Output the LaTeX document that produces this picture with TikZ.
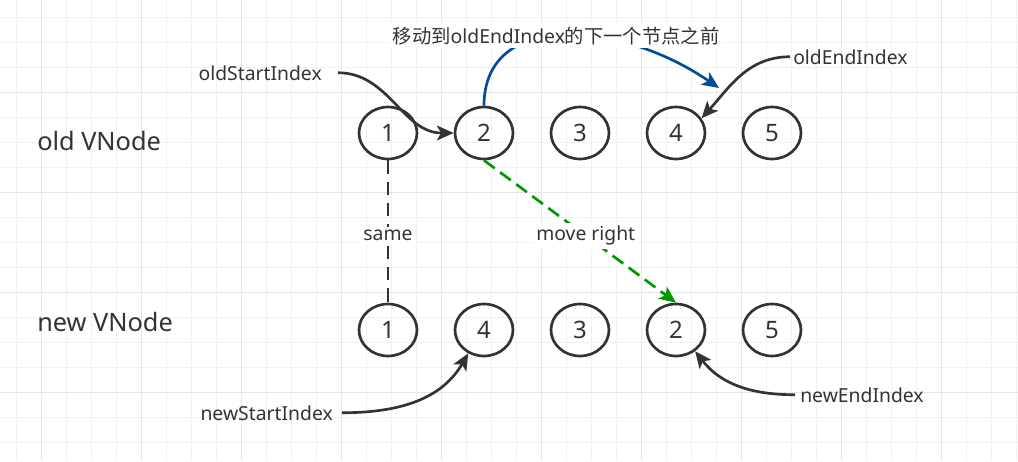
\documentclass[tikz,border=0pt]{standalone}
\usepackage{fontspec}
\setmainfont{Noto Sans}
\newfontfamily\cjk{Noto Sans CJK SC}
\usetikzlibrary{arrows.meta,shapes.geometric}
\definecolor{ink}{HTML}{333333}
\definecolor{moveblue}{HTML}{004C99}
\definecolor{movegreen}{HTML}{009900}
\definecolor{gridminor}{HTML}{F1F1F1}
\definecolor{gridmajor}{HTML}{E6E6E6}

\begin{document}
\begin{tikzpicture}[x=0.75pt,y=0.75pt,
  vnode/.style={ellipse,draw=ink,line width=2pt,minimum width=43.5pt,minimum height=39pt,
    inner sep=0pt,text=ink,font=\fontsize{18}{20}\selectfont},
  rowlabel/.style={anchor=base west,inner sep=0pt,text=ink,font=\fontsize{19}{22}\selectfont},
  idxlabel/.style={inner sep=0pt,text=ink,font=\fontsize{14.5}{16}\selectfont},
  edgelabel/.style={fill=white,inner sep=2.5pt,text=ink,font=\fontsize{14.5}{16}\selectfont},
  pointer/.style={line width=2pt,-{Stealth[length=12.5pt,width=11pt,inset=3pt]}}]
  % background grid
  \useasboundingbox (0,0) rectangle (1018,-461);
  \fill[white] (0,0) rectangle (1018,-461);
  \foreach \x in {16,41,...,1016}
    \draw[gridminor,line width=0.75pt] (\x,0) -- (\x,-461);
  \foreach \y in {17,42,...,442}
    \draw[gridminor,line width=0.75pt] (0,-\y) -- (1018,-\y);
  \foreach \x in {41,141,...,941}
    \draw[gridmajor,line width=0.75pt] (\x,0) -- (\x,-461);
  \foreach \y in {92,192,292,392}
    \draw[gridmajor,line width=0.75pt] (0,-\y) -- (1018,-\y);

  % rows
  \node[rowlabel] (oldrow) at (37,-150) {old VNode};
  \node[rowlabel] (newrow) at (37,-331) {new VNode};
  \foreach \i/\v in {1/1,2/2,3/3,4/4,5/5}
    \node[vnode] (o\i) at ({292+96*\i},-133) {\v};
  \foreach \i/\v in {1/1,2/4,3/3,4/2,5/5}
    \node[vnode] (n\i) at ({292+96*\i},-330) {\v};

  % index pointers
  \node[idxlabel,anchor=base east] (oldstart) at (322,-80) {oldStartIndex};
  \node[idxlabel,anchor=base west] (oldend) at (793,-64) {oldEndIndex};
  \node[idxlabel,anchor=base east] (newstart) at (333,-420) {newStartIndex};
  \node[idxlabel,anchor=base west] (newend) at (800,-402) {newEndIndex};
  \draw[pointer,ink] ([xshift=12pt]oldstart.east) to[out=0,in=180] (o2.west);
  \draw[pointer,ink] ([xshift=-2.25pt]oldend.west) to[out=180,in=48] (o4.30);
  \draw[pointer,ink] ([xshift=6.75pt]newstart.east) to[out=0,in=-120] (n2.236);
  \draw[pointer,ink] ([xshift=-3.75pt]newend.west) to[out=180,in=-52] (n4.-48);

  % moves
  \coordinate (bluetip) at (719,-88);
  \draw[pointer,moveblue] (o2.north) .. controls +(0,96) and +(-99,68) .. (bluetip)
    node[edgelabel,pos=.47] (movetext) {{\cjk 移动到}oldEndIndex{\cjk 的下一个节点之前}};
  \draw[line width=2pt,ink,dash pattern=on 10pt off 6pt] (o1.south) -- node[edgelabel,pos=.53] (same) {same} (n1.north);
  \draw[pointer,movegreen,dash pattern=on 10pt off 5pt] (o2.south) -- node[edgelabel,pos=.53] (right) {move right} (n4.north);
\end{tikzpicture}
\end{document}
